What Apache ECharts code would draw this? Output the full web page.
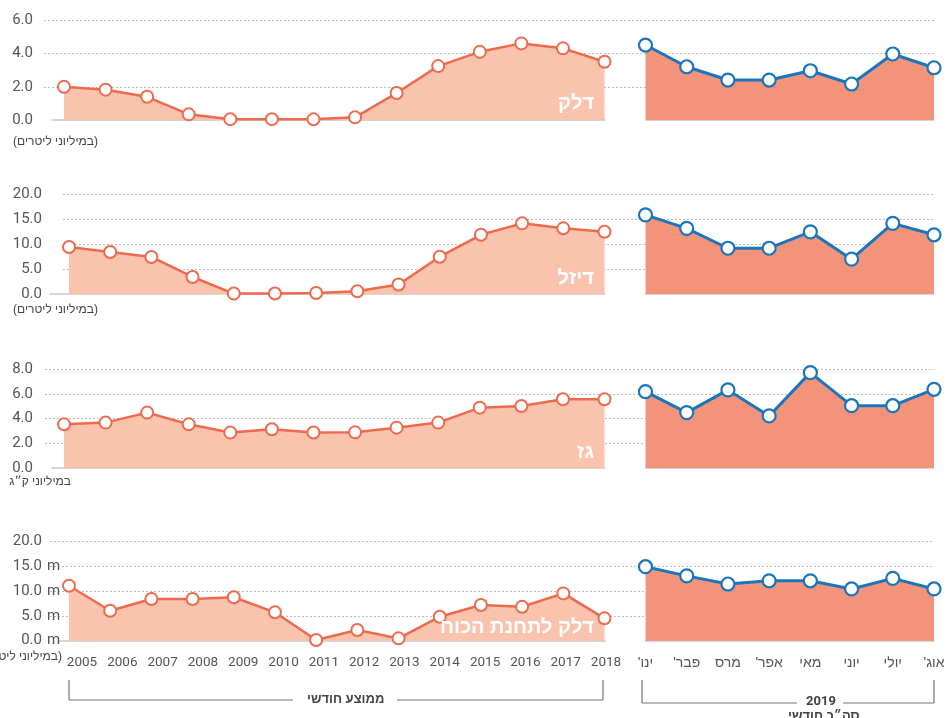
<!DOCTYPE html>
<html><head><meta charset="utf-8">
<script src="https://cdn.jsdelivr.net/npm/echarts@6/dist/echarts.min.js"></script>
<style>html,body{margin:0;padding:0;background:#fff}#c{width:950px;height:718px}</style>
</head><body><div id="c"></div>
<script>
// ---- data ----
const years = ['2005','2006','2007','2008','2009','2010','2011','2012','2013','2014','2015','2016','2017','2018'];
const months = ["ינו'", "פבר'", "מרס", "אפר'", "מאי", "יוני", "יולי", "אוג'"];
const fuelYearly = [2.0, 1.83, 1.4, 0.34, 0.05, 0.05, 0.04, 0.16, 1.63, 3.25, 4.11, 4.62, 4.32, 3.51];
const fuelMonthly = [4.52, 3.21, 2.41, 2.41, 2.97, 2.17, 3.98, 3.15];
const dieselYearly = [9.46, 8.45, 7.44, 3.42, 0.08, 0.1, 0.2, 0.54, 1.9, 7.5, 11.9, 14.2, 13.2, 12.5];
const dieselMonthly = [15.9, 13.2, 9.2, 9.2, 12.5, 7.0, 14.2, 11.9];
const gasYearly = [3.54, 3.68, 4.49, 3.54, 2.87, 3.14, 2.88, 2.89, 3.27, 3.68, 4.89, 5.03, 5.57, 5.57];
const gasMonthly = [6.19, 4.49, 6.33, 4.22, 7.73, 5.05, 5.05, 6.38];
const powerYearly = [11.1, 6.06, 8.42, 8.42, 8.77, 5.73, 0.13, 2.15, 0.47, 4.85, 7.2, 6.87, 9.56, 4.52];
const powerMonthly = [14.95, 13.1, 11.45, 12.1, 12.1, 10.45, 12.6, 10.45];
const panelNames = ['דלק', 'דיזל', 'גז', 'דלק לתחנת הכוח'];
const unitLabels = ['(במיליוני ליטרים)', '(במיליוני ליטרים)', 'במיליוני ק״ג', '(במיליוני ליטרים)'];
const yMax = [6, 20, 8, 20];
const yInterval = [2, 5, 2, 5];

// ---- layout ----
const W = 950;
const NUM_FONT = "Roboto, 'Liberation Sans', sans-serif";
const HEB_FONT = "'Liberation Sans', 'DejaVu Sans', sans-serif";
const rows = [
  {top:20.5, h:99.5, gridStart:44, labelMargin:11, baseStart:52, dataLeft:64, unitRight:98, unitY:143, nameY:104},
  {top:194.5, h:99.5, gridStart:63, labelMargin:21, baseStart:50, dataLeft:69, unitRight:98, unitY:311, nameY:279},
  {top:369.3, h:98.7, gridStart:45, labelMargin:12, baseStart:52, dataLeft:64, unitRight:71, unitY:483, nameY:453},
  {top:541.7, h:99, gridStart:50, labelMargin:8, baseStart:59, dataLeft:69, unitRight:62, unitY:658, nameY:628}
];
const leftEnd = 604.5, rightStart = 645.5, rightEnd = 934;
const seriesData = [[fuelYearly, fuelMonthly],[dieselYearly, dieselMonthly],[gasYearly, gasMonthly],[powerYearly, powerMonthly]];

const COR = '#ee6a4f', BLUE = '#1b75bc', AREA_L = '#f9c3ad', AREA_R = '#f3947a';
const grid = [], xAxis = [], yAxis = [], series = [], graphic = [];

rows.forEach((r, i) => {
  const last = i === 3;
  const nLines = Math.round(yMax[i] / yInterval[i]) + 1;
  const splitColors = ['rgba(0,0,0,0)'];
  for (let k = 1; k < nLines; k++) splitColors.push('#bdbdbd');
  // decor grid (gridlines + y labels)
  let g = grid.length;
  grid.push({left:r.gridStart, right:W-rightEnd, top:r.top, height:r.h});
  xAxis.push({gridIndex:g, type:'category', data:years, show:false});
  yAxis.push({gridIndex:g, type:'value', min:0, max:yMax[i], interval:yInterval[i],
    axisLine:{show:false}, axisTick:{show:false},
    axisLabel:{margin:r.labelMargin, fontSize:15, color:'#555', fontFamily:NUM_FONT, formatter:v=>v.toFixed(1)},
    splitLine:{show:true, lineStyle:{color:splitColors, type:[2,2], width:1}}});
  if (last) {
    yAxis.push({gridIndex:g, type:'value', min:0, max:yMax[i], interval:yInterval[i], position:'left',
      axisLine:{show:false}, axisTick:{show:false}, splitLine:{show:false},
      axisLabel:{margin:3, align:'left', fontSize:15, color:'#555', fontFamily:NUM_FONT, formatter:v=> v < yMax[i] ? 'm' : ''}});
  }
  // baseline grid (left)
  g = grid.length;
  grid.push({left:r.baseStart, right:W-605, top:r.top, height:r.h});
  xAxis.push({gridIndex:g, type:'category', data:years, axisLine:{show:true, lineStyle:{color:'#c8c8c8', width:1.5}}, axisTick:{show:false}, axisLabel:{show:false}});
  yAxis.push({gridIndex:g, type:'value', min:0, max:yMax[i], show:false});
  // left data grid
  g = grid.length;
  grid.push({left:r.dataLeft, right:W-leftEnd, top:r.top, height:r.h});
  xAxis.push({gridIndex:g, type:'category', data:years, boundaryGap:false, show:false});
  const yl = yAxis.length;
  yAxis.push({gridIndex:g, type:'value', min:0, max:yMax[i], show:false});
  series.push({type:'line', xAxisIndex:xAxis.length-1, yAxisIndex:yl, data:seriesData[i][0],
    symbol:'circle', symbolSize:12, showAllSymbol:true, z:3,
    lineStyle:{color:COR, width:2.5}, itemStyle:{color:'#fff', borderColor:COR, borderWidth:2},
    areaStyle:{color:AREA_L, opacity:1}, silent:true});
  // right data grid
  g = grid.length;
  grid.push({left:rightStart, right:W-rightEnd, top:r.top, height:r.h});
  xAxis.push({gridIndex:g, type:'category', data:months, boundaryGap:false,
    axisLine:{show:true, lineStyle:{color:'#c8c8c8', width:1.5}}, axisTick:{show:false},
    axisLabel:{show:last, interval:0, margin:15, fontSize:14, color:'#555', fontFamily:HEB_FONT,
      formatter:v=> v + '\u200F'}});
  const yr = yAxis.length;
  yAxis.push({gridIndex:g, type:'value', min:0, max:yMax[i], show:false});
  series.push({type:'line', xAxisIndex:xAxis.length-1, yAxisIndex:yr, data:seriesData[i][1],
    symbol:'circle', symbolSize:13, showAllSymbol:true, z:3,
    lineStyle:{color:BLUE, width:3}, itemStyle:{color:'#fff', borderColor:BLUE, borderWidth:2.2},
    areaStyle:{color:AREA_R, opacity:1}, silent:true});
  // texts
  graphic.push({type:'text', right:W-r.unitRight, top:r.unitY-7, style:{text:unitLabels[i], font:'12px '+HEB_FONT, fill:'#444'}});
  graphic.push({type:'text', right:W-594, top:r.nameY-11, z:10, style:{text:panelNames[i], font:'bold 20px '+HEB_FONT, fill:'#fff'}});
});

// year labels grid (bottom)
{
  const r = rows[3];
  const g = grid.length;
  grid.push({left:82, right:W-606, top:r.top, height:r.h});
  xAxis.push({gridIndex:g, type:'category', data:years, boundaryGap:false, axisLine:{show:false}, axisTick:{show:false},
    axisLabel:{interval:0, margin:15, fontSize:13.5, color:'#555', fontFamily:NUM_FONT}});
  yAxis.push({gridIndex:g, type:'value', min:0, max:1, show:false});
}

// brackets
const lc = '#777';
function ln(x1,y1,x2,y2){ graphic.push({type:'line', shape:{x1,y1,x2,y2}, style:{stroke:lc, lineWidth:1.2}, silent:true}); }
ln(69,680,69,700); ln(69,700,293,700); ln(397,700,603,700); ln(603,680,603,700);
graphic.push({type:'text', left:307, top:693, style:{text:'ממוצע חודשי', font:'bold 13px '+HEB_FONT, fill:'#444'}});
ln(642,680,642,703); ln(642,703,797,703); ln(843,703,934,703); ln(934,680,934,703);
graphic.push({type:'text', left:806, top:695, style:{text:'2019', font:'bold 13px '+NUM_FONT, fill:'#444'}});
graphic.push({type:'text', left:788, top:710, style:{text:'סה״כ חודשי', font:'bold 13px '+HEB_FONT, fill:'#444'}});

const chart = echarts.init(document.getElementById('c'), null, {renderer:'canvas'});
chart.setOption({animation:false, grid, xAxis, yAxis, series, graphic});
</script>
</body></html>
